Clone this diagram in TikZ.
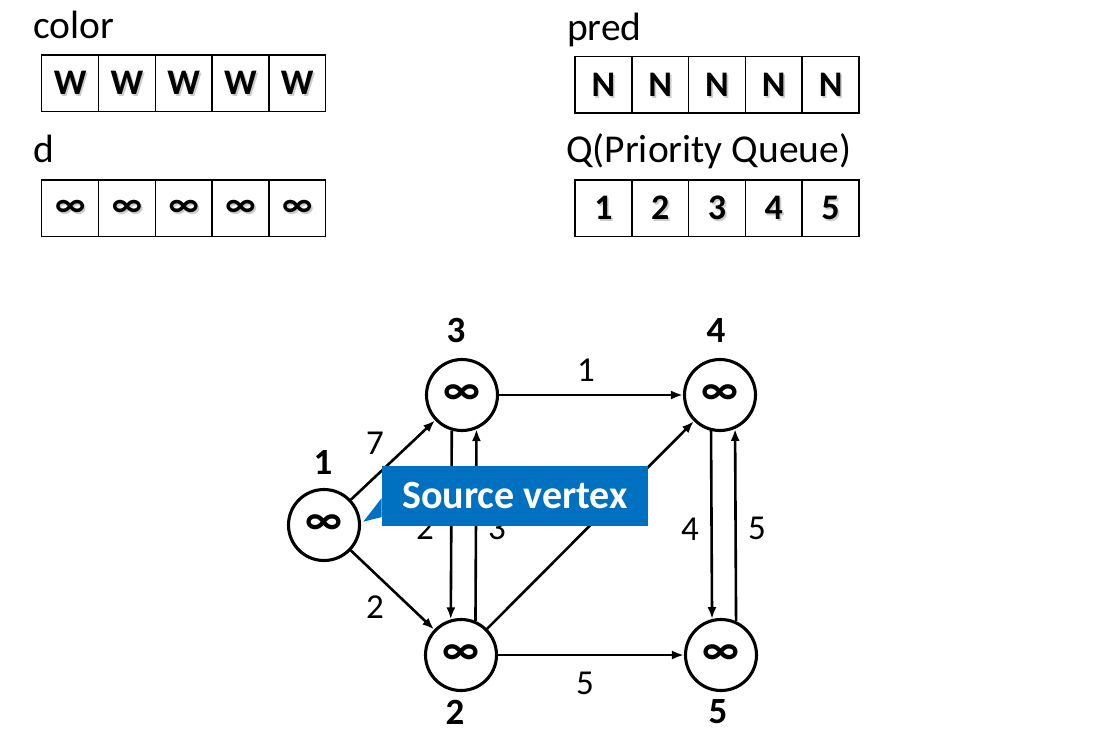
\documentclass[tikz,border=0pt]{standalone}
\usepackage{fontspec}
\setmainfont{Carlito}
\usetikzlibrary{arrows.meta,calc}
\definecolor{callblue}{HTML}{0070C0}
\begin{document}
\begin{tikzpicture}[x=1pt,y=-1pt,
  cell/.style={draw=black, line width=1.5pt, minimum width=56.8pt, minimum height=56.5pt, inner sep=0pt},
  celltext/.style={inner sep=0pt, font=\fontsize{36}{38}\selectfont\bfseries},
  cellshadow/.style={celltext, text=gray!40},
  arrlabel/.style={anchor=base west, inner sep=0pt, font=\fontsize{39.5}{42}\selectfont},
  vert/.style={circle, draw=black, line width=3.1pt, minimum size=71pt, inner sep=0pt, font=\fontsize{44}{46}\selectfont\bfseries},
  vlabel/.style={inner sep=0pt, font=\fontsize{37}{40}\selectfont\bfseries},
  elabel/.style={inner sep=0pt, font=\fontsize{35}{38}\selectfont},
  edge/.style={line width=2.6pt, -{Latex[length=12pt,width=9pt]}},
  callout/.style={fill=callblue, draw=none},
]
\useasboundingbox (0,0) rectangle (1109,740);

% array labels
\node[arrlabel] (lcolor) at (33,38) {color};
\node[arrlabel] (ld) at (33,162) {d};
\node[arrlabel] (lpred) at (567,40) {pred};
\node[arrlabel] (lq) at (566,162) {Q(Priority Queue)};

% arrays
\foreach \i/\t in {0/W,1/W,2/W,3/W,4/W}{
  \node[cell] (c\i) at ({70.1+56.8*\i},83.3) {};
  \node[cellshadow] at ({71.8+56.8*\i},85.0) {\t};
  \node[celltext] (ct\i) at ({70.1+56.8*\i},83.3) {\t};
}
\foreach \i in {0,...,4}{
  \node[cell] (d\i) at ({70.1+56.8*\i},208.3) {};
  \node[cellshadow] at ({71.8+56.8*\i},210.0) {∞};
  \node[celltext] (dt\i) at ({70.1+56.8*\i},208.3) {∞};
}
\foreach \i/\t in {0/N,1/N,2/N,3/N,4/N}{
  \node[cell] (p\i) at ({603.4+56.8*\i},84.8) {};
  \node[cellshadow] at ({605.1+56.8*\i},86.5) {\t};
  \node[celltext] (pt\i) at ({603.4+56.8*\i},84.8) {\t};
}
\foreach \i/\t in {0/1,1/2,2/3,3/4,4/5}{
  \node[cell] (q\i) at ({603.4+56.8*\i},208.1) {};
  \node[cellshadow] at ({605.1+56.8*\i},209.8) {\t};
  \node[celltext] (qt\i) at ({603.4+56.8*\i},208.1) {\t};
}

% graph vertices
\node[vert] (n1) at (324,525) {∞};
\node[vert] (n2) at (461,655) {∞};
\node[vert] (n3) at (462,395) {∞};
\node[vert] (n4) at (720,395) {∞};
\node[vert] (n5) at (721,655) {∞};

\node[vlabel] (v1) at (323,462) {1};
\node[vlabel] (v2) at (455,712) {2};
\node[vlabel] (v3) at (456,330) {3};
\node[vlabel] (v4) at (716,330) {4};
\node[vlabel] (v5) at (718,712) {5};

% edges
\draw[edge] (n1) -- (n3);
\draw[edge] (n1) -- (n2);
\draw[edge] (n3) -- (n4);
\draw[edge] (n2) -- (n4);
\draw[edge] (n2) -- (n5);
\draw[edge] (n3.-106) -- (n2.106);
\draw[edge] (n2.67) -- (n3.-67);
\draw[edge] (n4.-104) -- (n5.104);
\draw[edge] (n5.66) -- (n4.-66);

% edge labels
\node[elabel] (e13) at (375,443) {7};
\node[elabel] (e12) at (375,607) {2};
\node[elabel] (e34) at (586,370) {1};
\node[elabel] (e32) at (425,528) {2};
\node[elabel] (e23) at (497,528) {3};
\node[elabel] (e45) at (690,529) {4};
\node[elabel] (e54) at (757,528) {5};
\node[elabel] (e25) at (585,683) {5};

% callout
\fill[callout] (381.7,498) -- (363.3,521.7) -- (381.7,517) -- cycle;
\node[callout, minimum width=266pt, minimum height=60pt, inner sep=0pt, anchor=north west, text=white, font=\fontsize{40}{42}\selectfont\bfseries] (src) at (381.7,465.3) {Source vertex};
\end{tikzpicture}
\end{document}
